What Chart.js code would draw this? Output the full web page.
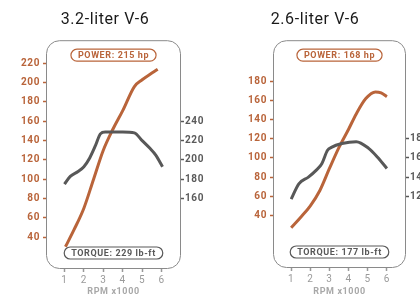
<!DOCTYPE html>
<html><head><meta charset="utf-8">
<script src="https://cdn.jsdelivr.net/npm/chart.js@4/dist/chart.umd.min.js"></script>
<style>
html,body{margin:0;padding:0;background:#fff;overflow:hidden;}
#wrap{position:relative;width:420px;height:296px;}
.c{position:absolute;top:0;width:210px;height:296px;}
</style></head><body>
<div id="wrap">
<div class="c" style="left:0"><canvas id="c1" width="210" height="296"></canvas></div>
<div class="c" style="left:210px"><canvas id="c2" width="210" height="296"></canvas></div>
</div>
<script>
// ---- data ----
const titles = ['3.2-liter V-6', '2.6-liter V-6'];
const powerBadges = ['POWER: 215 hp', 'POWER: 168 hp'];
const torqueBadges = ['TORQUE: 229 lb-ft', 'TORQUE: 177 lb-ft'];
const rpmTicks = [1, 2, 3, 4, 5, 6];
const xTitle = 'RPM x1000';

// 3.2-liter
const rpmPower32 = [1.05, 1.5, 2.0, 2.5, 3.0, 3.5, 4.0, 4.6, 5.0, 5.5, 5.8];
const power32    = [30, 48, 70, 100, 130, 152, 171, 196, 203, 210, 214];
const rpmTorque32 = [1.0, 1.3, 1.7, 2.0, 2.3, 2.6, 2.85, 3.1, 4.0, 4.6, 5.0, 5.4, 5.7, 6.05];
const torque32    = [175, 183, 188, 193, 202, 215, 227, 229, 229, 228, 220, 212, 205, 193];
const powerTicks32 = [40, 60, 80, 100, 120, 140, 160, 180, 200, 220];
const torqueTicks32 = [160, 180, 200, 220, 240];

// 2.6-liter
const rpmPower26 = [1.0, 1.5, 2.0, 2.5, 3.0, 3.5, 4.0, 4.4, 4.9, 5.4, 5.7, 6.0];
const power26    = [27, 38, 50, 66, 89, 111, 130, 146, 162, 169, 168, 164];
const rpmTorque26 = [1.0, 1.4, 1.9, 2.3, 2.6, 2.9, 3.1, 3.65, 4.4, 5.05, 5.5, 6.0];
const torque26    = [117, 133, 140, 147, 154, 168, 171, 175, 177, 170, 161, 149];
const powerTicks26 = [40, 60, 80, 100, 120, 140, 160, 180];
const torqueTicks26 = [120, 140, 160, 180];

const ORANGE = '#b9643a';
const DARK = '#585858';
const FONT = 'Roboto, "Liberation Sans", sans-serif';

function pill(ctx, cx, cy, text, color, textColor) {
  ctx.save();
  ctx.font = 'bold 9px ' + FONT;
  ctx.letterSpacing = '0.6px';
  const w = ctx.measureText(text).width + 14;
  const h = 12;
  const x = cx - w / 2, y = cy - h / 2;
  ctx.beginPath();
  ctx.roundRect(x, y, w, h, 6);
  ctx.fillStyle = '#fff';
  ctx.fill();
  ctx.lineWidth = 1.2;
  ctx.strokeStyle = color;
  ctx.stroke();
  ctx.fillStyle = textColor;
  ctx.textAlign = 'center';
  ctx.textBaseline = 'middle';
  ctx.fillText(text, cx, cy + 0.5);
  ctx.restore();
}

function makeChart(id, idx, rp, pw, rt, tq, pTicks, tTicks, yMin, yMax, offset, leftW, rightW, xH) {
  const boxPlugin = {
    id: 'box' + idx,
    beforeDraw(chart) {
      chart.ctx.letterSpacing = '0.6px';
    },
    beforeDatasetsDraw(chart) {
      const a = chart.chartArea, ctx = chart.ctx;
      ctx.save();
      ctx.beginPath();
      ctx.roundRect(a.left + 0.5, a.top + 0.5, a.right - a.left - 1, a.bottom - a.top - 1, 13);
      ctx.strokeStyle = '#8a8a8a';
      ctx.lineWidth = 1;
      ctx.stroke();
      ctx.restore();
    },
    afterDatasetsDraw(chart) {
      const a = chart.chartArea, ctx = chart.ctx;
      const cx = (a.left + a.right) / 2;
      pill(ctx, cx, a.top + 15, powerBadges[idx], ORANGE, ORANGE);
      pill(ctx, cx, a.bottom - 16, torqueBadges[idx], DARK, DARK);
    }
  };
  return new Chart(document.getElementById(id), {
    type: 'line',
    data: {
      datasets: [
        { label: 'Torque', data: rt.map((r, i) => ({ x: r, y: tq[i] })), yAxisID: 'yT',
          borderColor: DARK, borderWidth: 3, pointRadius: 0, cubicInterpolationMode: 'monotone', fill: false },
        { label: 'Power', data: rp.map((r, i) => ({ x: r, y: pw[i] })), yAxisID: 'yP',
          borderColor: ORANGE, borderWidth: 3, pointRadius: 0, cubicInterpolationMode: 'monotone', fill: false }
      ]
    },
    options: {
      responsive: false,
      animation: false,
      events: [],
      layout: { padding: 0 },
      plugins: {
        legend: { display: false },
        tooltip: { enabled: false },
        title: { display: true, text: titles[idx], color: '#1a1a1a',
          font: { family: FONT, size: 16, weight: 'normal', lineHeight: 1.2 },
          padding: { top: 10, bottom: 11 } }
      },
      scales: {
        x: {
          type: 'linear', min: 0.05, max: 7,
          afterFit: s => { s.height = xH; },
          afterBuildTicks: s => { s.ticks = rpmTicks.map(v => ({ value: v })); },
          grid: { drawOnChartArea: false, tickLength: 3, color: '#999', tickWidth: 1.5 },
          border: { display: false },
          ticks: { color: '#9a9a9a', padding: 2, font: { family: FONT, size: 10 } },
          title: { display: true, text: xTitle, color: '#a8a8a8',
            font: { family: FONT, size: 9, weight: 'bold', lineHeight: 1 }, padding: { top: 0, bottom: 0 } }
        },
        yP: {
          type: 'linear', position: 'left', min: yMin, max: yMax,
          afterFit: s => { s.width = leftW; },
          afterBuildTicks: s => { s.ticks = pTicks.map(v => ({ value: v })); },
          grid: { drawOnChartArea: false, tickLength: 3, color: ORANGE, tickWidth: 1.5 },
          border: { display: false },
          ticks: { color: ORANGE, padding: 3, font: { family: FONT, size: 10, weight: 'bold' } }
        },
        yT: {
          type: 'linear', position: 'right', min: yMin + offset, max: yMax + offset,
          afterFit: s => { s.width = rightW; },
          afterBuildTicks: s => { s.ticks = tTicks.map(v => ({ value: v })); },
          grid: { drawOnChartArea: false, tickLength: 3, color: DARK, tickWidth: 1.5 },
          border: { display: false },
          ticks: { color: '#5a5a5a', padding: 1, font: { family: FONT, size: 10, weight: 'bold' } }
        }
      }
    },
    plugins: [boxPlugin]
  });
}

makeChart('c1', 0, rpmPower32, power32, rpmTorque32, torque32, powerTicks32, torqueTicks32, 7, 244, 80, 46, 29, 27);
makeChart('c2', 1, rpmPower26, power26, rpmTorque26, torque26, powerTicks26, torqueTicks26, -15, 223, 60, 63, 14, 28);
</script>
</body></html>
